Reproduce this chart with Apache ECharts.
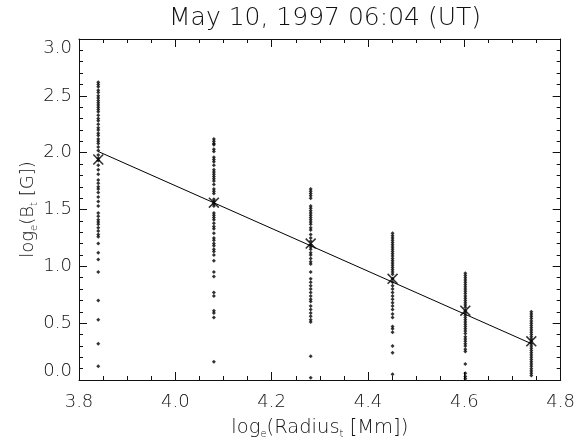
<!DOCTYPE html>
<html>
<head>
<meta charset="utf-8">
<script src="https://cdn.jsdelivr.net/npm/echarts@6/dist/echarts.min.js"></script>
<style>
  html, body { margin: 0; padding: 0; background: #fff; }
  #chart { width: 578px; height: 444px; }
</style>
</head>
<body>
<div id="chart"></div>
<script>
// x position (log radius) of each column of points
const colX = [3.840, 4.080, 4.281, 4.451, 4.602, 4.739];

// log(B) samples read from each column
const col1 = [2.62, 2.60, 2.58, 2.55, 2.53, 2.50, 2.48, 2.46, 2.44, 2.42, 2.40, 2.38, 2.36, 2.33, 2.30,
  2.28, 2.25, 2.22, 2.20, 2.17, 2.15, 2.12, 2.10, 2.08, 2.05, 2.02, 1.98, 1.95, 1.93, 1.89, 1.85, 1.81,
  1.76, 1.73, 1.70, 1.68, 1.65, 1.61, 1.57, 1.53, 1.47, 1.44, 1.41, 1.39, 1.37, 1.34, 1.31, 1.28, 1.26,
  1.20, 1.12, 1.06, 0.95, 0.70, 0.53, 0.32, 0.12];
const col2 = [2.12, 2.10, 2.08, 2.07, 2.03, 2.01, 1.96, 1.94, 1.92, 1.89, 1.85, 1.83, 1.81, 1.79, 1.77,
  1.75, 1.72, 1.68, 1.66, 1.64, 1.59, 1.57, 1.55, 1.53, 1.47, 1.45, 1.43, 1.41, 1.38, 1.35, 1.33, 1.29,
  1.25, 1.23, 1.20, 1.18, 1.15, 1.13, 1.10, 1.05, 0.95, 0.91, 0.77, 0.74, 0.61, 0.59, 0.55, 0.16];
const col3 = [1.68, 1.66, 1.64, 1.62, 1.60, 1.53, 1.51, 1.49, 1.47, 1.45, 1.43, 1.41, 1.39, 1.37, 1.34,
  1.32, 1.28, 1.25, 1.22, 1.19, 1.17, 1.15, 1.12, 1.10, 1.07, 1.04, 1.02, 0.95, 0.89, 0.86, 0.83, 0.80,
  0.77, 0.74, 0.71, 0.69, 0.65, 0.62, 0.59, 0.56, 0.53, 0.51, 0.21, 0.02];
const col4 = [1.29, 1.27, 1.25, 1.23, 1.21, 1.19, 1.17, 1.15, 1.13, 1.11, 1.09, 1.07, 1.05, 1.03, 1.01,
  0.99, 0.97, 0.95, 0.93, 0.89, 0.86, 0.83, 0.80, 0.77, 0.74, 0.71, 0.68, 0.65, 0.62, 0.58, 0.55, 0.47,
  0.45, 0.42, 0.30, 0.24, 0.05];
const col5 = [0.94, 0.92, 0.90, 0.88, 0.86, 0.84, 0.82, 0.80, 0.78, 0.76, 0.74, 0.72, 0.70, 0.68, 0.66,
  0.64, 0.61, 0.59, 0.57, 0.55, 0.53, 0.51, 0.49, 0.47, 0.45, 0.43, 0.41, 0.38, 0.36, 0.34, 0.32, 0.30,
  0.27, 0.25, 0.14, 0.06, 0.03, 0.01];
const col6 = [0.60, 0.58, 0.56, 0.54, 0.52, 0.50, 0.48, 0.46, 0.44, 0.42, 0.40, 0.38, 0.36, 0.34, 0.32,
  0.30, 0.28, 0.26, 0.24, 0.22, 0.20, 0.18, 0.16, 0.14, 0.12, 0.10, 0.08, 0.06, 0.04];

// column means (X markers) and fitted line
const meanY = [1.94, 1.56, 1.20, 0.89, 0.61, 0.34];
const fitX = [3.840, 4.739];
const fitY = [2.01, 0.32];

const columns = [col1, col2, col3, col4, col5, col6];
const pointData = [];
columns.forEach((col, i) => {
  col.forEach(v => pointData.push([colX[i], v]));
});
const meanData = colX.map((x, i) => [x, meanY[i]]);
const fitData = fitX.map((x, i) => [x, fitY[i]]);

const FONT = 'DejaVu Sans';
const INK = '#111';

const chart = echarts.init(document.getElementById('chart'));

const tickCommon = {
  axisLine: { show: true, onZero: false, lineStyle: { color: INK, width: 1 } },
  axisTick: { show: true, inside: true, length: 8, lineStyle: { color: INK, width: 1 } },
  minorTick: { show: true, length: 4, lineStyle: { color: INK, width: 1 } },
  splitLine: { show: false }
};

chart.setOption({
  animation: false,
  backgroundColor: '#fff',
  title: {
    text: 'May 10, 1997 06:04 (UT)',
    left: 320,
    top: 1,
    textAlign: 'center',
    textStyle: { fontFamily: FONT, fontSize: 25, fontWeight: 200, color: INK }
  },
  grid: { left: 79, right: 15, top: 39, bottom: 63 },
  xAxis: [
    Object.assign({
      type: 'value', min: 3.8, max: 4.8, interval: 0.2, position: 'bottom',
      axisLabel: {
        margin: 13, fontFamily: FONT, fontSize: 18, fontWeight: 200, color: INK,
        formatter: v => v.toFixed(1)
      },
      name: '{a|log}{s|e}{a|(Radius}{s|t}{a| [Mm])}',
      nameLocation: 'middle',
      nameGap: 37,
      nameTextStyle: {
        rich: {
          a: { fontFamily: FONT, fontSize: 19.5, fontWeight: 200, color: INK, lineHeight: 22 },
          s: { fontFamily: FONT, fontSize: 10, fontWeight: 200, color: INK, lineHeight: 22, verticalAlign: 'bottom', padding: [8, 0, 0, 0] }
        }
      }
    }, tickCommon, { minorTick: Object.assign({ splitNumber: 4 }, tickCommon.minorTick) }),
    Object.assign({
      type: 'value', min: 3.8, max: 4.8, interval: 0.2, position: 'top',
      axisLabel: { show: false }
    }, tickCommon, { minorTick: Object.assign({ splitNumber: 4 }, tickCommon.minorTick) })
  ],
  yAxis: [
    Object.assign({
      type: 'value', min: 0, max: 3, interval: 0.5, position: 'left',
      axisLabel: {
        margin: 7, fontFamily: FONT, fontSize: 18, fontWeight: 200, color: INK,
        formatter: v => v.toFixed(1),
        verticalAlignMinLabel: 'bottom',
        verticalAlignMaxLabel: 'top'
      },
      name: '{a|log}{s|e}{a|(B}{s|t}{a| [G])}',
      nameLocation: 'middle',
      nameGap: 40,
      nameMoveOverlap: false,
      nameRotate: 90,
      nameTextStyle: {
        rich: {
          a: { fontFamily: FONT, fontSize: 18, fontWeight: 200, color: INK, lineHeight: 22 },
          s: { fontFamily: FONT, fontSize: 10, fontWeight: 200, color: INK, lineHeight: 22, verticalAlign: 'bottom', padding: [8, 0, 0, 0] }
        }
      }
    }, tickCommon, { minorTick: Object.assign({ splitNumber: 5 }, tickCommon.minorTick) }),
    Object.assign({
      type: 'value', min: 0, max: 3, interval: 0.5, position: 'right',
      axisLabel: { show: false }
    }, tickCommon, { minorTick: Object.assign({ splitNumber: 5 }, tickCommon.minorTick) })
  ],
  series: [
    {
      type: 'scatter',
      data: pointData,
      symbol: 'diamond',
      symbolSize: 4,
      itemStyle: { color: '#000' },
      silent: true
    },
    {
      type: 'line',
      data: fitData,
      showSymbol: false,
      lineStyle: { color: '#000', width: 1 },
      silent: true
    },
    {
      type: 'scatter',
      data: meanData,
      symbol: 'path://M0,1L1,0L5,4L9,0L10,1L6,5L10,9L9,10L5,6L1,10L0,9L4,5Z',
      symbolSize: 11,
      itemStyle: { color: '#000' },
      z: 5,
      silent: true
    }
  ]
});
</script>
</body>
</html>
